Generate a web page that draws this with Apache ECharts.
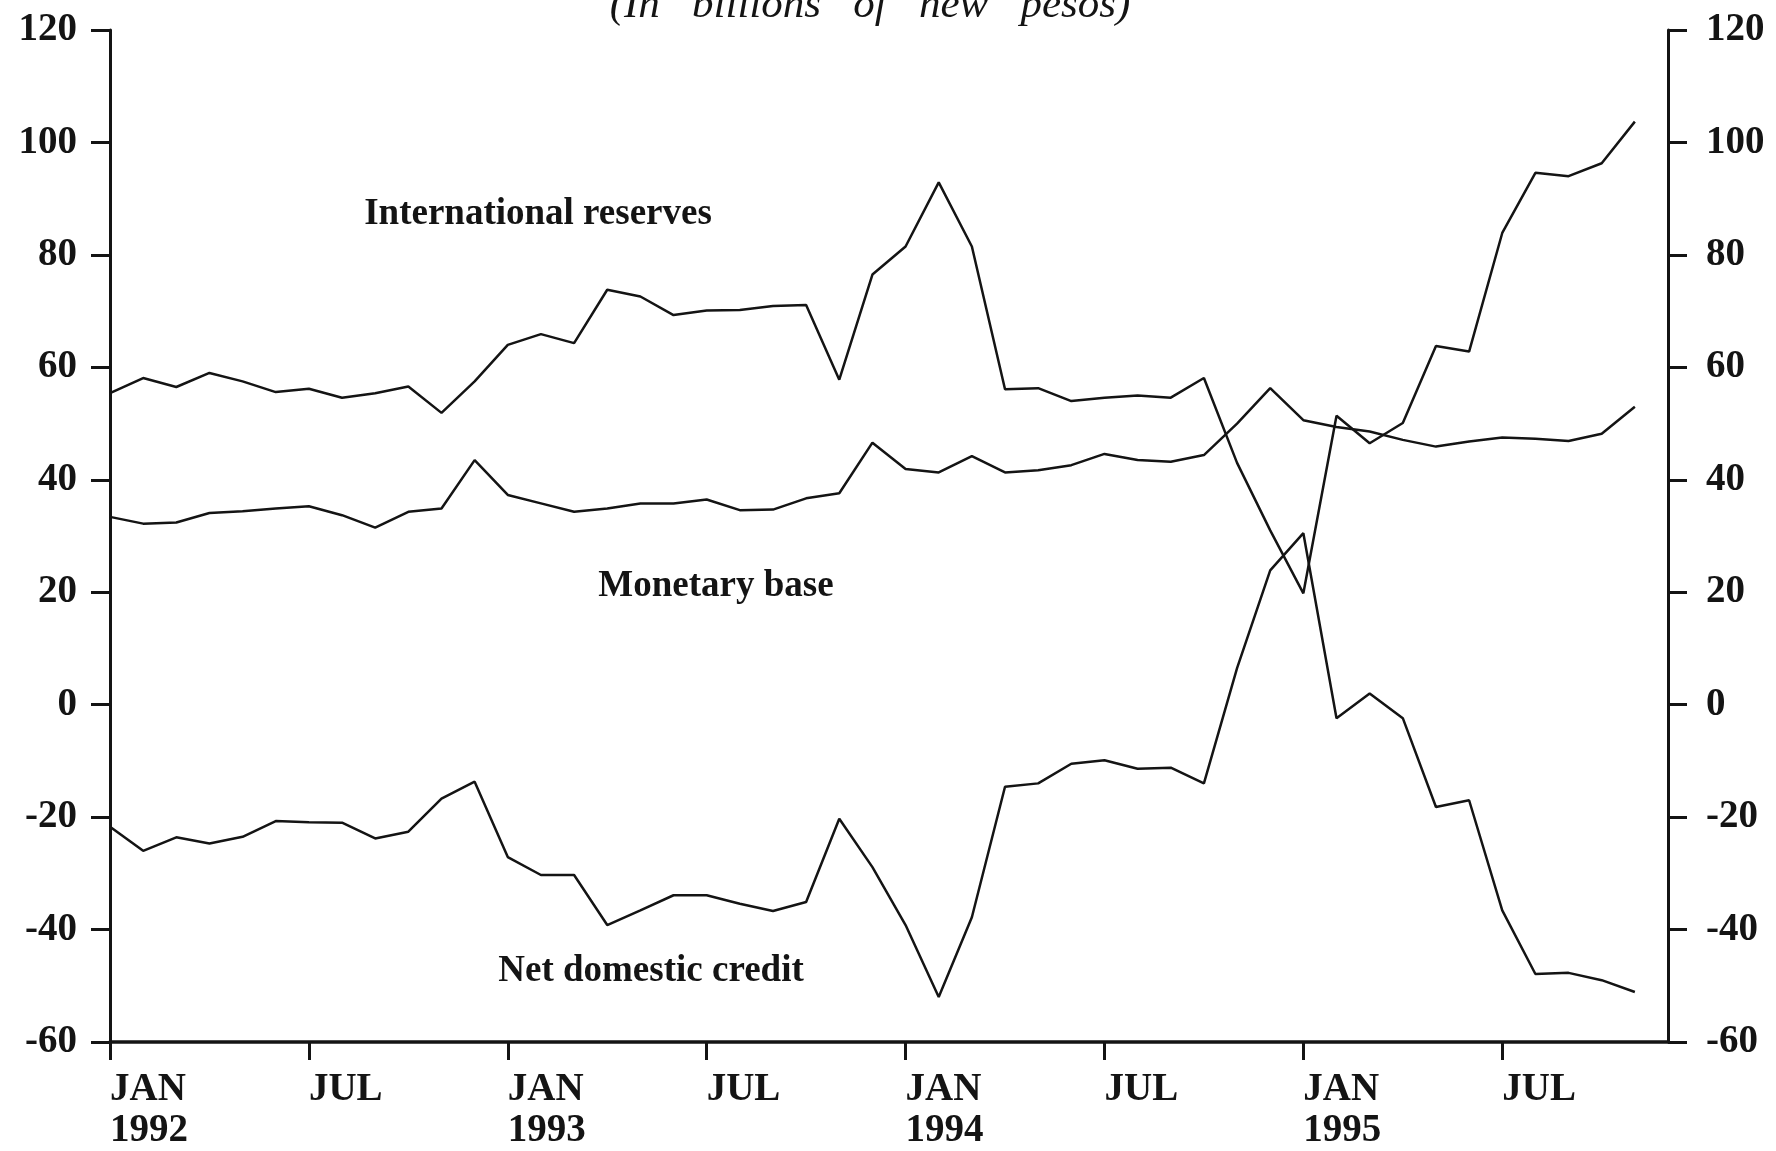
<!DOCTYPE html>
<html>
<head>
    <meta charset="UTF-8">
    <title>Mexico: reserves, base and credit</title>
    <style>
        html, body { margin: 0; padding: 0; background: #fff; }
        #chart { width: 1776px; height: 1151px; }
    </style>
    <script src="https://cdn.jsdelivr.net/npm/echarts@6/dist/echarts.min.js"></script>
</head>
<body>
<div id="chart"></div>

<script type="text/javascript">
    // months Jan 1992 .. Dec 1995 (last one has no data, axis ends there)
    var months = [
        'Jan 1992','Feb 1992','Mar 1992','Apr 1992','May 1992','Jun 1992','Jul 1992','Aug 1992','Sep 1992','Oct 1992','Nov 1992','Dec 1992',
        'Jan 1993','Feb 1993','Mar 1993','Apr 1993','May 1993','Jun 1993','Jul 1993','Aug 1993','Sep 1993','Oct 1993','Nov 1993','Dec 1993',
        'Jan 1994','Feb 1994','Mar 1994','Apr 1994','May 1994','Jun 1994','Jul 1994','Aug 1994','Sep 1994','Oct 1994','Nov 1994','Dec 1994',
        'Jan 1995','Feb 1995','Mar 1995','Apr 1995','May 1995','Jun 1995','Jul 1995','Aug 1995','Sep 1995','Oct 1995','Nov 1995','Dec 1995'
    ];

    // billions of new pesos
    var reserves = [
        55.4, 58.1, 56.5, 59.0, 57.5, 55.6, 56.2, 54.6, 55.4, 56.6, 51.9, 57.5,
        64.0, 65.9, 64.3, 73.8, 72.6, 69.3, 70.1, 70.2, 70.9, 71.1, 57.8, 76.5,
        81.5, 92.9, 81.5, 56.1, 56.3, 54.0, 54.6, 55.0, 54.6, 58.1, 43.0, 31.0,
        19.8, 51.4, 46.5, 50.1, 63.8, 62.8, 83.9, 94.6, 94.0, 96.3, 103.7
    ];
    var monetaryBase = [
        33.4, 32.2, 32.4, 34.1, 34.4, 34.9, 35.3, 33.7, 31.5, 34.3, 34.9, 43.5,
        37.3, 35.8, 34.3, 34.9, 35.8, 35.8, 36.5, 34.6, 34.7, 36.7, 37.6, 46.6,
        41.9, 41.3, 44.2, 41.3, 41.7, 42.6, 44.6, 43.5, 43.2, 44.4, 50.0, 56.3,
        50.6, 49.4, 48.6, 47.1, 45.9, 46.8, 47.5, 47.3, 46.9, 48.2, 53.0
    ];
    var netDomesticCredit = [
        -21.7, -26.0, -23.6, -24.7, -23.5, -20.7, -20.9, -21.0, -23.8, -22.6, -16.7, -13.7,
        -27.1, -30.3, -30.3, -39.2, -36.6, -33.9, -33.9, -35.4, -36.7, -35.1, -20.3, -28.9,
        -39.2, -52.0, -37.8, -14.6, -14.0, -10.5, -9.9, -11.4, -11.2, -14.0, 6.5, 23.9,
        30.5, -2.4, 2.0, -2.4, -18.2, -17.0, -36.6, -47.9, -47.7, -49.0, -51.1
    ];

    // tick labels on the time axis
    var tickLabels = {
        'Jan 1992': 'JAN\n1992', 'Jul 1992': 'JUL',
        'Jan 1993': 'JAN\n1993', 'Jul 1993': 'JUL',
        'Jan 1994': 'JAN\n1994', 'Jul 1994': 'JUL',
        'Jan 1995': 'JAN\n1995', 'Jul 1995': 'JUL'
    };

    var ink = '#141414';
    var serif = 'Liberation Serif';

    var myChart = echarts.init(document.getElementById('chart'), null, {renderer: 'canvas'});

    function valueAxis(pos, margin) {
        return {
            type: 'value',
            position: pos,
            min: -60,
            max: 120,
            interval: 20,
            axisLine: {show: true, lineStyle: {color: ink, width: 3}},
            axisTick: {show: true, length: 19, lineStyle: {color: ink, width: 3}},
            axisLabel: {
                margin: margin,
                color: ink,
                fontFamily: serif,
                fontWeight: 'bold',
                fontSize: 39
            },
            splitLine: {show: false}
        };
    }

    function lineSeries(name, data) {
        return {
            name: name,
            type: 'line',
            data: data,
            showSymbol: false,
            symbol: 'none',
            lineStyle: {color: ink, width: 2.5},
            silent: true
        };
    }

    function note(text, x, y) {
        return {
            type: 'text',
            x: x,
            y: y,
            style: {
                text: text,
                fill: ink,
                font: 'bold 37px "Liberation Serif"',
                textAlign: 'center',
                align: 'center',
                textVerticalAlign: 'middle',
                verticalAlign: 'middle'
            }
        };
    }

    var option = {
        animation: false,
        backgroundColor: '#fff',
        grid: {left: 110, right: 108, top: 30, bottom: 109, containLabel: false},
        xAxis: {
            type: 'category',
            data: months,
            boundaryGap: false,
            axisLine: {onZero: false, lineStyle: {color: ink, width: 3.5}},
            axisTick: {interval: 5, length: 18, lineStyle: {color: ink, width: 3}},
            axisLabel: {
                interval: 5,
                align: 'left',
                margin: 27,
                color: ink,
                fontFamily: serif,
                fontWeight: 'bold',
                fontSize: 39,
                lineHeight: 41,
                formatter: function (v) { return tickLabels[v] || ''; }
            },
            splitLine: {show: false}
        },
        yAxis: [valueAxis('left', 33), valueAxis('right', 38)],
        series: [
            lineSeries('International reserves', reserves),
            lineSeries('Monetary base', monetaryBase),
            lineSeries('Net domestic credit', netDomesticCredit)
        ],
        graphic: [
            {
                type: 'text',
                x: 870,
                y: 6,
                style: {
                    text: '(In   billions   of   new   pesos)',
                    fill: ink,
                    font: 'italic 43px "Liberation Serif"',
                    textAlign: 'center',
                    align: 'center',
                    textVerticalAlign: 'middle',
                    verticalAlign: 'middle'
                }
            },
            note('International reserves', 538, 214),
            note('Monetary base', 716, 586),
            note('Net domestic credit', 651, 971)
        ]
    };

    myChart.setOption(option);
</script>
</body>
</html>
